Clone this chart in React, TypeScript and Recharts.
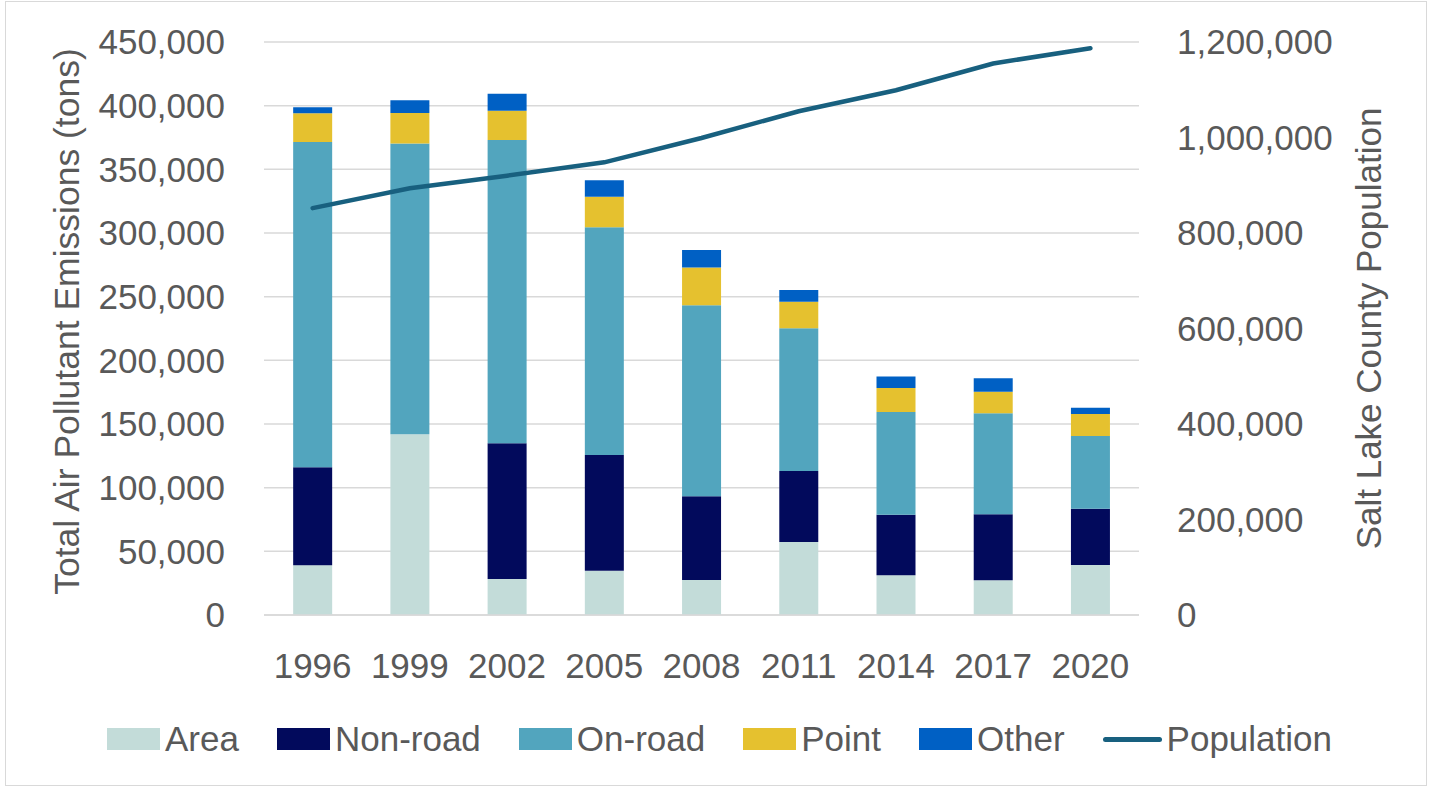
import React from 'react';
import { ComposedChart, Bar, Line, XAxis, YAxis, CartesianGrid, Legend } from 'recharts';

const years = ['1996', '1999', '2002', '2005', '2008', '2011', '2014', '2017', '2020'];
const area = [39000, 142000, 28300, 34800, 27500, 57300, 31200, 27200, 39300];
const nonRoad = [77000, 0, 106500, 90900, 65700, 55800, 47600, 51900, 44200];
const onRoad = [255500, 228300, 238200, 178800, 150000, 112100, 80600, 79300, 57100];
const point = [22500, 24000, 23000, 24000, 29800, 20800, 18900, 17000, 17300];
const other = [4700, 10000, 13400, 12900, 13600, 9200, 9100, 10500, 4900];
const population = [852000, 893600, 920000, 948000, 999000, 1055000, 1099000, 1155000, 1187000];

const leftTicks = [0, 50000, 100000, 150000, 200000, 250000, 300000, 350000, 400000, 450000];
const rightTicks = [0, 200000, 400000, 600000, 800000, 1000000, 1200000];

const data = years.map((y, i) => ({
  year: y,
  Area: area[i],
  'Non-road': nonRoad[i],
  'On-road': onRoad[i],
  Point: point[i],
  Other: other[i],
  Population: population[i],
}));

const FONT = '"Liberation Sans", Arial, sans-serif';
const TEXT = '#595959';
const FS = 35;

const series = [
  { key: 'Area', color: '#c3dcd9' },
  { key: 'Non-road', color: '#020a5c' },
  { key: 'On-road', color: '#52a5be' },
  { key: 'Point', color: '#e5c12f' },
  { key: 'Other', color: '#0060c4' },
];
const lineColor = '#18607f';

const fmt = (v: number) => v.toLocaleString('en-US');

const LegendContent = () => (
  <div style={{ display: 'flex', justifyContent: 'center', alignItems: 'center', fontFamily: FONT, fontSize: FS, color: TEXT, paddingLeft: 4 }}>
    {series.map((s) => (
      <div key={s.key} style={{ display: 'flex', alignItems: 'center', marginRight: 38 }}>
        <div style={{ width: 53, height: 22, background: s.color, marginRight: 5 }} />
        <span>{s.key}</span>
      </div>
    ))}
    <div style={{ display: 'flex', alignItems: 'center' }}>
      <div style={{ width: 59, height: 5, background: lineColor, borderRadius: 3, marginRight: 5 }} />
      <span>Population</span>
    </div>
  </div>
);

export default function App() {
  return (
    <div style={{ position: 'absolute', left: 0, top: 0, width: 1435, height: 788, background: '#fff' }}>
      <div style={{ position: 'absolute', left: 5, top: 1, width: 1422, height: 785, border: '1.5px solid #d9d9d9', boxSizing: 'border-box' }} />
      <ComposedChart
        width={1435}
        height={788}
        data={data}
        margin={{ top: 42, right: 0, left: 0, bottom: 93 }}
        barCategoryGap="30%"
        style={{ position: 'absolute', left: 0, top: 0 }}
      >
        <CartesianGrid yAxisId="left" vertical={false} stroke="#d9d9d9" strokeWidth={1.5} />
        <XAxis
          dataKey="year"
          height={80}
          axisLine={{ stroke: '#d9d9d9', strokeWidth: 1.5 }}
          tickLine={false}
          tickSize={0}
          tickMargin={38}
          tick={{ fill: TEXT, fontSize: FS, fontFamily: FONT }}
        />
        <YAxis
          yAxisId="left"
          orientation="left"
          width={264}
          domain={[0, 450000]}
          ticks={leftTicks}
          interval={0}
          axisLine={false}
          tickLine={false}
          tickSize={0}
          tickMargin={39}
          tickFormatter={fmt}
          tick={{ fill: TEXT, fontSize: FS, fontFamily: FONT }}
          label={{
            content: (props: any) => {
              const vb = props.viewBox || { x: 0, y: 42, width: 264, height: 573 };
              const cx = vb.x + 67;
              const cy = vb.y + vb.height / 2 - 7;
              return (
                <text x={cx} y={cy} transform={`rotate(-90 ${cx} ${cy})`} textAnchor="middle" dominantBaseline="central" fill={TEXT} fontSize={35.5} fontFamily={FONT}>
                  Total Air Pollutant Emissions (tons)
                </text>
              );
            },
          }}
        />
        <YAxis
          yAxisId="right"
          orientation="right"
          width={296}
          domain={[0, 1200000]}
          ticks={rightTicks}
          interval={0}
          axisLine={false}
          tickLine={false}
          tickSize={0}
          tickMargin={38}
          tickFormatter={fmt}
          tick={{ fill: TEXT, fontSize: FS, fontFamily: FONT, textAnchor: 'start' }}
          label={{
            content: (props: any) => {
              const vb = props.viewBox || { x: 1139, y: 42, width: 296, height: 573 };
              const cx = vb.x + 229;
              const cy = vb.y + vb.height / 2;
              return (
                <text x={cx} y={cy} transform={`rotate(-90 ${cx} ${cy})`} textAnchor="middle" dominantBaseline="central" fill={TEXT} fontSize={35} fontFamily={FONT}>
                  Salt Lake County Population
                </text>
              );
            },
          }}
        />
        {series.map((s) => (
          <Bar key={s.key} yAxisId="left" dataKey={s.key} stackId="a" fill={s.color} isAnimationActive={false} />
        ))}
        <Line
          yAxisId="right"
          type="linear"
          dataKey="Population"
          stroke={lineColor}
          strokeWidth={4.5}
          strokeLinecap="round"
          dot={false}
          activeDot={false}
          isAnimationActive={false}
        />
        <Legend
          verticalAlign="middle"
          layout="horizontal"
          align="center"
          content={() => <LegendContent />}
          wrapperStyle={{ top: 719, left: 0, width: 1435 }}
        />
      </ComposedChart>
    </div>
  );
}
